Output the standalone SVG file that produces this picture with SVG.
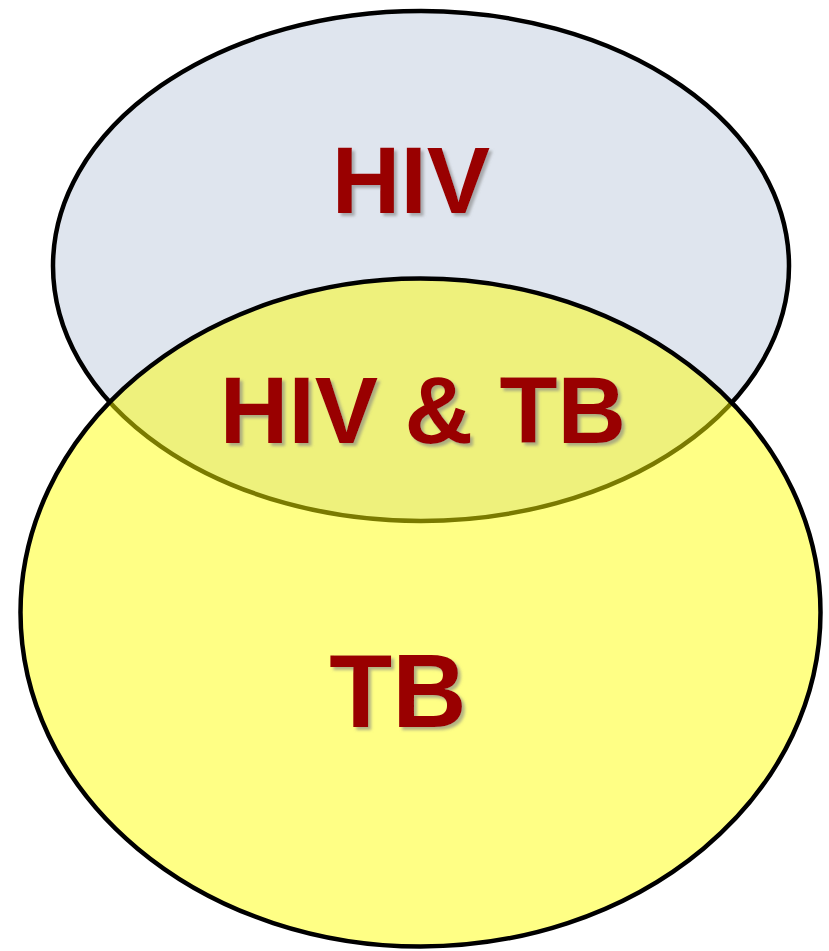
<svg xmlns="http://www.w3.org/2000/svg" width="829" height="951" viewBox="0 0 829 951">
<defs>
<style>
.lbl{font-family:"Liberation Sans",Arial,sans-serif;font-weight:bold;font-size:95px;fill:#990000;text-anchor:middle;filter:url(#sh)}
</style>
<filter id="sh" x="-10%" y="-20%" width="130%" height="150%">
<feDropShadow dx="3" dy="3" stdDeviation="1.5" flood-color="#808080" flood-opacity="0.6"/>
</filter>
</defs>
<rect width="829" height="951" fill="#ffffff"/>
<g id="hiv">
<ellipse cx="421" cy="266" rx="368" ry="255" fill="#dfe5ee" stroke="#000" stroke-width="4.5"/>
</g>
<g id="tb">
<ellipse cx="420.5" cy="612.5" rx="400" ry="334" fill="#ffff00" fill-opacity="0.48" stroke="#000" stroke-width="4.5"/>
</g>
<g id="labels">
<text class="lbl" x="411" y="213">HIV</text>
<text class="lbl" x="423" y="443">HIV &amp; TB</text>
<text class="lbl" x="398" y="727" style="font-size:103px">TB</text>
</g>
<g id="connectors"/>
</svg>
